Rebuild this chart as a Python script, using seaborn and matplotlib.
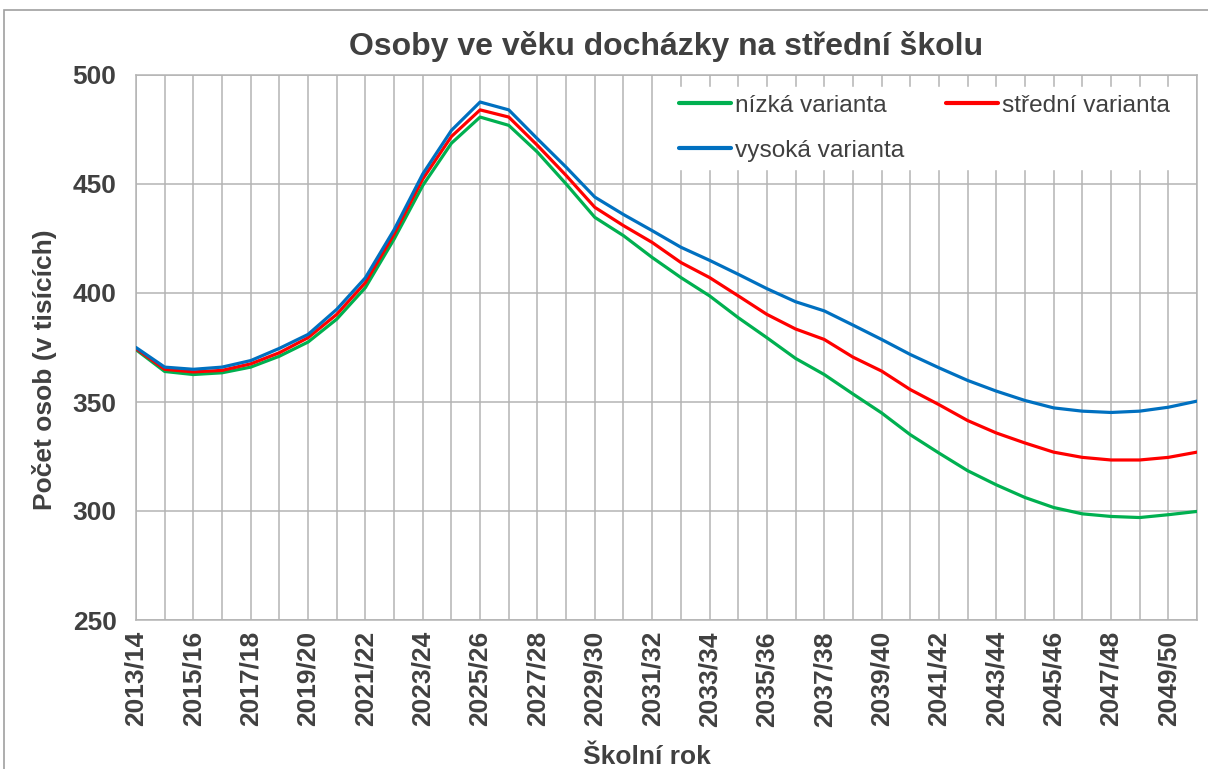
import numpy as np
import pandas as pd
import matplotlib.pyplot as plt
import seaborn as sns
from matplotlib.patches import Rectangle

# school years 2013/14 .. 2050/51
years = [f"{y}/{str(y + 1)[-2:]}" for y in range(2013, 2051)]

low = [374, 364, 362.6, 363.4, 366, 371, 377.5, 388, 402.5, 424.7, 449.3, 468.7, 480.7, 476.9,
       464.6, 450, 434.7, 426.3, 416.3, 407.1, 398.7, 388.7, 379.5, 370, 362.6, 353.7, 345, 335,
       326.6, 318.5, 312, 306.2, 301.6, 298.7, 297.5, 297, 298.3, 299.8]
mid = [374.5, 365, 363.8, 364.5, 367.5, 372.6, 379.5, 390.2, 404.8, 427, 452.3, 471.8, 484, 480.7,
       467.7, 453.9, 439.3, 430.9, 423.2, 414, 407.1, 398.7, 390.2, 383.5, 378.7, 370.6, 364.2, 355.7,
       348.8, 341.5, 335.8, 331.2, 327, 324.6, 323.4, 323.4, 324.6, 327]
high = [375, 366, 365, 366, 369, 374.6, 381, 392.5, 407, 429, 454.6, 474.6, 487.6, 484,
        470.7, 457.7, 444, 436, 428.6, 421, 415, 408.6, 402, 396, 391.8, 385.3, 378.7, 371.8,
        365.7, 359.9, 355, 350.7, 347.3, 345.8, 345.2, 345.8, 347.6, 350.4]

labels = ["nízká varianta", "střední varianta", "vysoká varianta"]
colors = {"nízká varianta": "#00B050", "střední varianta": "#FF0000", "vysoká varianta": "#0070C0"}

df = pd.DataFrame({
    "idx": np.tile(np.arange(len(years)), 3),
    "value": low + mid + high,
    "varianta": np.repeat(labels, len(years)),
})

sns.set_style("white")
plt.rcParams['font.family'] = ['Liberation Sans', 'DejaVu Sans']
txt = '#404040'
grid = '#B4B4B4'

fig = plt.figure(figsize=(12.08, 7.69), dpi=100)
ax = fig.add_axes([136 / 1208, 1 - 620 / 769, (1197 - 136) / 1208, (620 - 75) / 769])

sns.lineplot(data=df, x="idx", y="value", hue="varianta", palette=colors, linewidth=2.3,
             ax=ax, legend=False, zorder=3)

ax.set_xlim(0, len(years) - 1)
ax.set_ylim(250, 500)
ax.set_yticks(range(250, 501, 50))
ax.set_xticks(range(len(years)))
ax.set_xticklabels([y if i % 2 == 0 else "" for i, y in enumerate(years)],
                   rotation=90, fontsize=19, fontweight='bold', color=txt)
ax.set_yticklabels([str(v) for v in range(250, 501, 50)], fontsize=19, fontweight='bold', color=txt)
ax.tick_params(axis='x', length=0, pad=8)
ax.tick_params(axis='y', length=0, pad=14)
ax.grid(True, color=grid, linewidth=1.1)
for s in ax.spines.values():
    s.set_color(grid)
    s.set_linewidth(1.1)

ax.set_xlabel("Školní rok", fontsize=19, fontweight='bold', color=txt)
ax.xaxis.set_label_coords((647 - 136) / 1061, -(757 - 620) / 545)
ax.xaxis.label.set_va('center')
ax.set_ylabel("Počet osob (v tisících)", fontsize=19, fontweight='bold', color=txt)
ax.yaxis.set_label_coords(-(136 - 45) / 1061, (620 - 370) / 545)
ax.yaxis.label.set_va('center')
fig.text((136 + 1197) / 2 / 1208, 1 - 47 / 769, "Osoby ve věku docházky na střední školu",
         ha='center', va='center', fontsize=23, fontweight='bold', color=txt)

# legend: reorder so rows read nízká / střední, then vysoká
handles = [plt.Line2D([], [], color=colors[l], linewidth=3) for l in labels]
order = [0, 2, 1]
leg = ax.legend([handles[i] for i in order], [labels[i] for i in order], ncol=2,
                loc='upper right', bbox_to_anchor=(0.993, 1.0), fontsize=17.6, frameon=True,
                fancybox=False, framealpha=1, edgecolor='white', handlelength=2.15,
                handletextpad=0.15, columnspacing=1.7, labelspacing=0.93, borderpad=0.3)
for t in leg.get_texts():
    t.set_color(txt)
leg.set_zorder(5)

fig.patches.append(Rectangle((4 / 1208, -0.1), 1.2, 1 - 10 / 769 + 0.1, transform=fig.transFigure,
                             fill=False, edgecolor='#A0A0A0', linewidth=1.2))

fig.savefig("out.png", dpi=100)
